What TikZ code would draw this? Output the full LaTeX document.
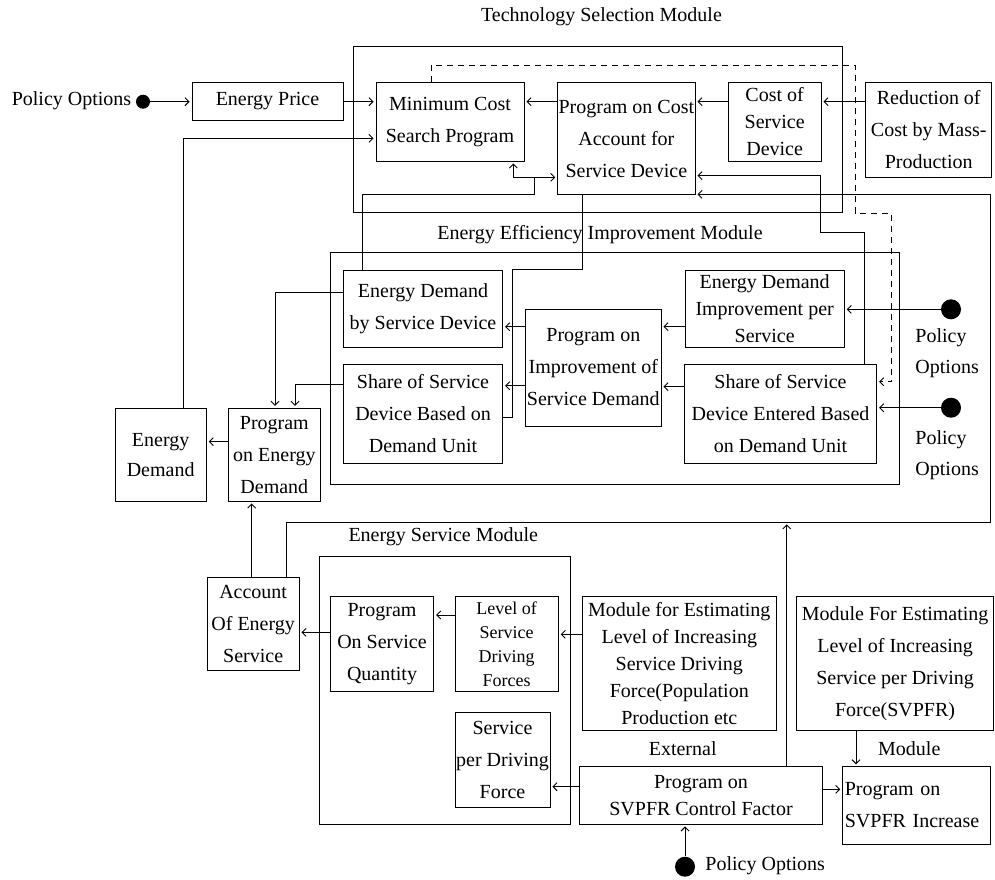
\documentclass[tikz,border=0pt]{standalone}
\usepackage{fontspec}
\setmainfont{Liberation Serif}
\usetikzlibrary{arrows.meta}
\tikzset{
  box/.style={draw, inner sep=0pt, align=center, font=\fontsize{20}{32}\selectfont},
  frame/.style={draw, inner sep=0pt},
  arr/.style={-{Straight Barb[length=4pt,width=8pt]}, shorten >=2pt},
  dot/.style={circle, fill, inner sep=0pt, minimum size=20pt},
  smalldot/.style={circle, fill, inner sep=0pt, minimum size=14pt},
  lbl/.style={inner sep=0pt, font=\fontsize{20}{31}\selectfont},
}
\begin{document}
\begin{tikzpicture}[x=1pt, y=-1pt, line width=0.9pt]
\useasboundingbox (0,0) rectangle (995,879);

% module frames
\node[frame, minimum width=488.7pt, minimum height=166.7pt] (tsm) at (597.65,129.35) {};
\node[frame, minimum width=568.6pt, minimum height=232pt] (eeim) at (615,368.3) {};
\node[frame, minimum width=251pt, minimum height=268pt] (esm) at (444.8,690) {};

\node[lbl] (tsml) at (601.5,17) {Technology Selection Module};
\node[lbl] (eeiml) at (600,235) {Energy Efficiency Improvement Module};
\node[lbl] (esml) at (443.3,536.7) {Energy Service Module};
\node[lbl] (extl) at (682.7,748.3) {External};
\node[lbl] (modl) at (909.3,748.3) {Module};

% boxes
\node[box, minimum width=151pt, minimum height=37.3pt] (ep) at (267.5,101.35) {Energy Price};
\node[box, minimum width=148pt, minimum height=78.3pt] (mc) at (450,121.85) {Minimum Cost\\Search Program};
\node[box, minimum width=137.3pt, minimum height=111.8pt] (pc) at (626.35,138.6) {Program on Cost\\Account for\\Service Device};
\node[box, minimum width=92.7pt, minimum height=78.3pt, font=\fontsize{20}{27}\selectfont] (csd) at (774.65,121.85) {Cost of\\Service\\Device};
\node[box, minimum width=126pt, minimum height=94.3pt] (red) at (928.7,129.85) {Reduction of\\Cost by Mass-\\Production};

\node[box, minimum width=159.4pt, minimum height=77.7pt] (edsd) at (423,308.85) {Energy Demand\\by Service Device};
\node[box, minimum width=159.4pt, minimum height=99.4pt] (ssb) at (423,414) {Share of Service\\Device Based on\\Demand Unit};
\node[box, minimum width=135.3pt, minimum height=117pt] (pis) at (593.35,367.5) {Program on\\Improvement of\\Service Demand};
\node[box, minimum width=159.3pt, minimum height=77.7pt, font=\fontsize{20}{27}\selectfont] (edi) at (764.65,308.85) {Energy Demand\\Improvement per\\Service};
\node[box, minimum width=192.4pt, minimum height=99.3pt] (sse) at (780.5,413.65) {Share of Service\\Device Entered Based\\on Demand Unit};

\node[box, minimum width=91.3pt, minimum height=92.7pt, font=\fontsize{20}{30}\selectfont] (ed) at (160.65,454.65) {Energy\\Demand};
\node[box, minimum width=91.3pt, minimum height=92.7pt] (ped) at (274.35,454.65) {Program\\on Energy\\Demand};
\node[box, minimum width=91.7pt, minimum height=92.3pt] (aes) at (253.15,623.85) {Account\\Of Energy\\Service};

\node[box, minimum width=103.4pt, minimum height=95pt] (psq) at (382,643.8) {Program\\On Service\\Quantity};
\node[box, minimum width=103.3pt, minimum height=95pt, font=\fontsize{18}{24}\selectfont] (lsd) at (506.65,643.8) {Level of\\Service\\Driving\\Forces};
\node[box, minimum width=95pt, minimum height=95.4pt] (spd) at (502.5,760) {Service\\per Driving\\Force};
\node[box, minimum width=194pt, minimum height=133.7pt, font=\fontsize{20}{27}\selectfont] (mfe) at (679.3,663.15) {Module for Estimating\\Level of Increasing\\Service Driving\\Force(Population\\Production etc};
\node[box, minimum width=196.8pt, minimum height=133.3pt] (mfe2) at (895.1,663.35) {Module For Estimating\\Level of Increasing\\Service per Driving\\Force(SVPFR)};
\node[box, minimum width=243.4pt, minimum height=57.3pt, font=\fontsize{20}{27}\selectfont] (svc) at (701,795.35) {Program on\\SVPFR Control Factor};
\node[box, minimum width=147.3pt, minimum height=77.3pt, align=left, text width=143pt] (svi) at (916.35,805.35) {Program on\\SVPFR Increase};

% policy dots and labels
\node[smalldot] (d1) at (143,101.7) {};
\node[lbl] (p1) at (71.5,100.7) {Policy Options};
\node[dot] (d2) at (951,309.3) {};
\node[lbl, anchor=west, align=left] (p2) at (915,353.6) {Policy\\Options};
\node[dot] (d3) at (951,407.7) {};
\node[lbl, anchor=west, align=left] (p3) at (915,455.4) {Policy\\Options};
\node[dot] (d4) at (685,866.7) {};
\node[lbl, anchor=west] (p4) at (705,866) {Policy Options};

% connectors: technology selection
\draw[arr] (d1.east) -- (ep.west |- d1.east);
\draw[arr] (ep.east |- 0,101.7) -- (mc.west |- 0,101.7);
\draw[arr] (ed.north -| 183.3,0) |- (mc.west |- 0,138.3);
\draw[arr] (pc.west |- 0,101.7) -- (mc.east |- 0,101.7);
\draw[arr] (csd.west |- 0,101.7) -- (pc.east |- 0,101.7);
\draw[arr] (red.west |- 0,101.7) -- (csd.east |- 0,101.7);
\draw (edsd.north -| 362.3,0) |- (534.3,194.3) -- (534.3,177.3) coordinate (j1);
\draw[arr] (j1) -| (mc.south -| 513.3,0);
\draw[arr] (j1) -- (pc.west |- j1);
\draw (pc.south -| 582.7,0) |- (512.7,269.3) |- (ssb.east |- 0,417.3);
\draw[arr] (sse.north -| 864.3,0) |- (820,232.7) |- (pc.east |- 0,175.7);
\draw[arr] (aes.north -| 286,0) |- (990,522.3) |- (pc.east |- 0,194.3);
\draw[arr] (svc.north -| 786.7,0) -- (786.7,522.3);
\draw[arr, dashed, dash pattern=on 6pt off 5pt] (mc.north -| 431.7,0) |- (855,65) |- (891.7,213.3) |- (sse.east |- 0,381.7);

% energy efficiency
\draw[arr] (pis.west |- 0,326.7) -- (edsd.east |- 0,326.7);
\draw[arr] (pis.west |- 0,385.7) -- (ssb.east |- 0,385.7);
\draw[arr] (edi.west |- 0,326.7) -- (pis.east |- 0,326.7);
\draw[arr] (sse.west |- 0,386.7) -- (pis.east |- 0,386.7);
\draw[arr] (d2.west) -- (edi.east |- d2.west);
\draw[arr] (d3.west) -- (sse.east |- d3.west);
\draw[arr] (edsd.west |- 0,292.7) -| (ped.north -| 275,0);
\draw[arr] (ssb.west |- 0,384) -| (ped.north -| 295,0);
\draw[arr] (ped.west |- 0,441.7) -- (ed.east |- 0,441.7);
\draw[arr] (aes.north -| 251.7,0) -- (ped.south -| 251.7,0);

% energy service
\draw[arr] (psq.west |- 0,632.3) -- (aes.east |- 0,632.3);
\draw[arr] (lsd.west |- 0,615) -- (psq.east |- 0,615);
\draw[arr] (mfe.west |- 0,634.3) -- (lsd.east |- 0,634.3);
\draw[arr] (svc.west |- 0,786.7) -- (spd.east |- 0,786.7);
\draw[arr] (svc.east |- 0,789.3) -- (svi.west |- 0,789.3);
\draw[arr] (mfe2.south -| 856,0) -- (svi.north -| 856,0);
\draw[arr] (d4.north) -- (svc.south -| d4.north);
\end{tikzpicture}
\end{document}
